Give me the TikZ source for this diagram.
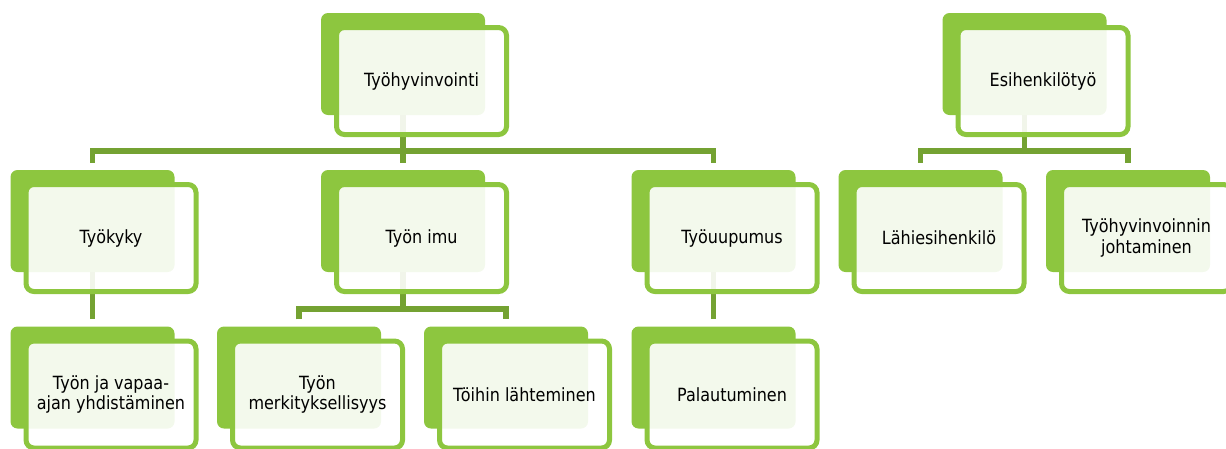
\documentclass[tikz,border=0pt]{standalone}
\usepackage{fontspec}
\setmainfont{DejaVu Sans}[FakeStretch=0.88]
\definecolor{leaf}{RGB}{141,198,63}
\definecolor{connc}{RGB}{116,162,50}
\tikzset{
  backbox/.style={fill=leaf, draw=none, rounded corners=7pt, minimum width=164pt, minimum height=102pt, inner sep=0pt},
  frontbox/.style={draw=leaf, line width=5pt, fill=white, fill opacity=0.9, text opacity=1, draw opacity=1,
    rounded corners=8pt, minimum width=170pt, minimum height=107pt, inner sep=0pt, align=center,
    font=\fontsize{18.2}{20.5}\selectfont, text=black},
  connline/.style={draw=connc, line width=5.8pt}
}
\begin{document}
\begin{tikzpicture}[x=1pt,y=-1pt]
\useasboundingbox (0,0) rectangle (1226,448);
% back boxes
\node[backbox] (bA) at (403,64) {};
\node[backbox] (bB) at (92.5,221) {};
\node[backbox] (bC) at (403,221) {};
\node[backbox] (bD) at (713.5,221) {};
\node[backbox] (bE) at (92.5,377.5) {};
\node[backbox] (bF) at (299,377.5) {};
\node[backbox] (bG) at (506,377.5) {};
\node[backbox] (bH) at (713.5,377.5) {};
\node[backbox] (bI) at (1024.5,64) {};
\node[backbox] (bJ) at (920.5,221) {};
\node[backbox] (bK) at (1128,221) {};
% bar levels
\coordinate (yOne) at (0,151);
\coordinate (yTwo) at (0,309);
% connectors
\draw[connline] (bA.south) -- ([yshift=7pt]bC.north);
\draw[connline] ([yshift=7pt]bB.north) |- (yOne -| bA.south) -| ([yshift=7pt]bD.north);
\draw[connline] (bB.south) -- ([yshift=7pt]bE.north);
\draw[connline] (bC.south) -- (bC.south |- yTwo);
\draw[connline] ([yshift=7pt]bF.north) |- (yTwo -| bC.south) -| ([yshift=7pt]bG.north);
\draw[connline] (bD.south) -- ([yshift=7pt]bH.north);
\draw[connline] (bI.south) -- (bI.south |- yOne);
\draw[connline] ([yshift=7pt]bJ.north) |- (yOne -| bI.south) -| ([yshift=7pt]bK.north);
% front boxes
\node[frontbox] (fA) at (421.5,81) {Työhyvinvointi};
\node[frontbox] (fB) at (111,238) {Työkyky};
\node[frontbox] (fC) at (421.5,238) {Työn imu};
\node[frontbox] (fD) at (732,238) {Työuupumus};
\node[frontbox] (fE) at (111,394.5) {Työn ja vapaa-\\ajan yhdistäminen};
\node[frontbox] (fF) at (317.5,394.5) {Työn\\merkityksellisyys};
\node[frontbox] (fG) at (524.5,394.5) {Töihin lähteminen};
\node[frontbox] (fH) at (732,394.5) {Palautuminen};
\node[frontbox] (fI) at (1043,81) {Esihenkilötyö};
\node[frontbox] (fJ) at (939,238) {Lähiesihenkilö};
\node[frontbox] (fK) at (1146.5,238) {Työhyvinvoinnin\\johtaminen};
\end{tikzpicture}
\end{document}
